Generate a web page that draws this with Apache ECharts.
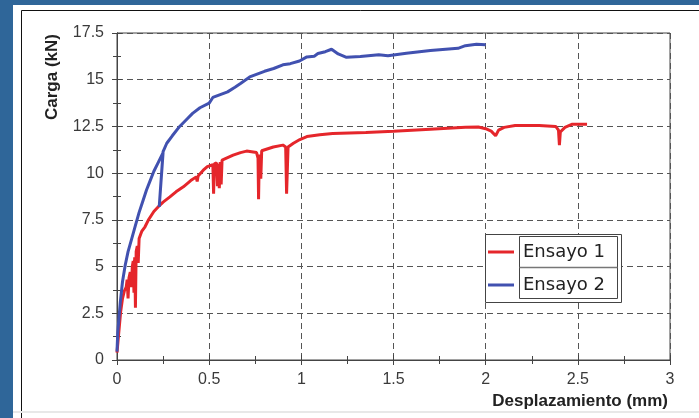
<!DOCTYPE html>
<html>
<head>
<meta charset="utf-8">
<script src="https://cdn.jsdelivr.net/npm/echarts@6/dist/echarts.min.js"></script>
<style>
html,body{margin:0;padding:0;background:#2f6699;}
#c{width:699px;height:418px;}
</style>
</head>
<body>
<div id="c"></div>
<script>
// ---- data (x: displacement mm, y: load kN) ----
var seriesNames = ["Ensayo 1", "Ensayo 2"];
var xTicks = ["0", "0.5", "1", "1.5", "2", "2.5", "3"];
var yTicks = ["0", "2.5", "5", "7.5", "10", "12.5", "15", "17.5"];
var xTitle = "Desplazamiento (mm)";
var yTitle = "Carga (kN)";

var ensayo1 = [
  [0,0.4],[0.01,1.5],[0.02,2.6],[0.03,3.3],[0.04,3.7],[0.05,3.9],[0.055,4.3],[0.06,3.3],[0.065,4.4],
  [0.072,4.7],[0.078,3.9],[0.083,5.0],[0.088,5.3],[0.092,3.6],[0.096,5.5],[0.1,2.8],[0.104,5.8],
  [0.11,6.1],[0.115,5.2],[0.12,6.5],[0.135,6.9],[0.152,7.13],[0.17,7.49],[0.2,7.95],[0.224,8.2],
  [0.25,8.45],[0.287,8.73],[0.32,9.0],[0.36,9.27],[0.4,9.6],[0.43,9.8],[0.435,9.55],[0.44,9.85],
  [0.468,10.16],[0.49,10.35],[0.52,10.45],[0.524,8.9],[0.528,10.5],[0.54,10.55],[0.545,9.3],
  [0.55,10.5],[0.555,9.2],[0.56,10.6],[0.565,9.4],[0.57,10.7],[0.576,10.7],[0.63,10.96],
  [0.67,11.1],[0.703,11.18],[0.757,11.1],[0.765,10.8],[0.768,8.6],[0.772,11.0],[0.78,9.7],
  [0.785,11.2],[0.793,11.23],[0.848,11.4],[0.9,11.5],[0.915,11.4],[0.92,8.9],[0.928,11.4],
  [0.957,11.6],[0.992,11.8],[1.03,11.96],[1.1,12.05],[1.17,12.12],[1.35,12.18],[1.5,12.24],
  [1.7,12.35],[1.89,12.45],[1.96,12.47],[2.0,12.38],[2.03,12.25],[2.054,12.0],[2.07,12.3],
  [2.1,12.45],[2.16,12.55],[2.29,12.55],[2.38,12.5],[2.395,12.3],[2.4,11.5],[2.405,12.2],
  [2.43,12.45],[2.47,12.62],[2.55,12.62]
];

var ensayo2 = [
  [0,0.45],[0.004,1.45],[0.012,2.4],[0.018,3.1],[0.03,4.2],[0.045,5.1],[0.06,5.8],[0.08,6.5],
  [0.1,7.2],[0.12,7.9],[0.14,8.5],[0.16,9.1],[0.18,9.6],[0.2,10.1],[0.22,10.5],[0.24,10.9],
  [0.25,11.1],[0.229,8.2],[0.25,11.15],[0.27,11.6],[0.3,12.0],[0.34,12.5],[0.38,12.9],
  [0.41,13.2],[0.45,13.5],[0.5,13.75],[0.52,14.05],[0.56,14.2],[0.6,14.35],[0.64,14.6],
  [0.67,14.8],[0.72,15.15],[0.76,15.3],[0.8,15.45],[0.85,15.6],[0.9,15.8],[0.94,15.86],
  [0.99,16.0],[1.03,16.22],[1.07,16.26],[1.09,16.4],[1.13,16.5],[1.164,16.63],[1.2,16.38],
  [1.245,16.2],[1.32,16.24],[1.42,16.33],[1.47,16.28],[1.57,16.42],[1.7,16.56],[1.85,16.68],
  [1.89,16.82],[1.95,16.9],[2.0,16.87]
];

var colors = ["#e5262b", "#4151b0"];

var chart = echarts.init(document.getElementById('c'), null, {renderer: 'canvas'});

var labelFont = 'Liberation Sans, Arial';

function xAxisDef(inside, withLabels) {
  return {
    type: 'value', min: 0, max: 3, interval: 0.5, position: 'bottom', gridIndex: 0,
    axisLine: {show: true, onZero: false, lineStyle: {color: '#444', width: 1}},
    axisTick: {show: true, inside: inside, length: 5, lineStyle: {color: '#444'}},
    minorTick: {show: true, splitNumber: 2, length: 4, lineStyle: {color: '#444'}},
    axisLabel: {show: withLabels, margin: 12, color: '#3a3a3a', fontSize: 16, fontFamily: labelFont,
      formatter: function (v) { var i = Math.round(v / 0.5); return xTicks[i] !== undefined ? xTicks[i] : ''; }},
    splitLine: {show: withLabels, lineStyle: {color: '#555', type: [6, 4], width: 1}},
    minorSplitLine: {show: false}
  };
}
function yAxisDef(inside, withLabels) {
  return {
    type: 'value', min: 0, max: 17.5, interval: 2.5, position: 'left', gridIndex: 0,
    axisLine: {show: true, onZero: false, lineStyle: {color: '#444', width: 1}},
    axisTick: {show: true, inside: inside, length: 5, lineStyle: {color: '#444'}},
    minorTick: {show: true, splitNumber: 2, length: 4, lineStyle: {color: '#444'}},
    axisLabel: {show: withLabels, margin: 13, color: '#3a3a3a', fontSize: 16, fontFamily: labelFont,
      formatter: function (v) { var i = Math.round(v / 2.5); return yTicks[i] !== undefined ? yTicks[i] : ''; }},
    splitLine: {show: withLabels, lineStyle: {color: '#555', type: [6, 4], width: 1}},
    minorSplitLine: {show: false}
  };
}

var option = {
  animation: false,
  backgroundColor: 'transparent',
  grid: {left: 117, top: 33, right: 29, bottom: 58, show: true, borderColor: '#444', borderWidth: 1, backgroundColor: 'transparent'},
  xAxis: [xAxisDef(false, true), xAxisDef(true, false)],
  yAxis: [yAxisDef(false, true), yAxisDef(true, false)],
  series: [
    {name: seriesNames[0], type: 'line', data: ensayo1, xAxisIndex: 0, yAxisIndex: 0, showSymbol: false,
      lineStyle: {color: colors[0], width: 3}, itemStyle: {color: colors[0]}, z: 3},
    {name: seriesNames[1], type: 'line', data: ensayo2, xAxisIndex: 0, yAxisIndex: 0, showSymbol: false,
      lineStyle: {color: colors[1], width: 3}, itemStyle: {color: colors[1]}, z: 4}
  ],
  graphic: [
    {type: 'rect', z: -10, silent: true, shape: {x: 13, y: 5, width: 700, height: 420}, style: {fill: '#ffffff'}},
    {type: 'rect', z: -9, silent: true, shape: {x: 21.5, y: 10.5, width: 700, height: 430}, style: {fill: '#ffffff', stroke: '#111', lineWidth: 1}},
    {type: 'line', z: -8, silent: true, shape: {x1: 13, y1: 412, x2: 699, y2: 412}, style: {stroke: '#e8e8e8', lineWidth: 2}},
    {type: 'text', z: 10, silent: true, x: 52, y: 77, rotation: Math.PI / 2,
      style: {text: yTitle, font: 'bold 17px "Liberation Sans", Arial', fill: '#222', textAlign: 'center', textVerticalAlign: 'middle'}},
    {type: 'text', z: 10, silent: true, x: 668, y: 401,
      style: {text: xTitle, font: 'bold 17px "Liberation Sans", Arial', fill: '#222', textAlign: 'right', textVerticalAlign: 'middle'}},
    // legend
    {type: 'rect', z: 10, silent: true, shape: {x: 485.5, y: 234.5, width: 136, height: 68}, style: {fill: '#fff', stroke: '#444', lineWidth: 1}},
    {type: 'rect', z: 11, silent: true, shape: {x: 519.5, y: 236.5, width: 98, height: 62}, style: {fill: '#fff', stroke: '#444', lineWidth: 1}},
    {type: 'line', z: 11, silent: true, shape: {x1: 519.5, y1: 267.5, x2: 617.5, y2: 267.5}, style: {stroke: '#777', lineWidth: 1.5}},
    {type: 'line', z: 11, silent: true, shape: {x1: 488, y1: 252, x2: 514, y2: 252}, style: {stroke: colors[0], lineWidth: 3}},
    {type: 'line', z: 11, silent: true, shape: {x1: 488, y1: 285, x2: 514, y2: 285}, style: {stroke: colors[1], lineWidth: 3}},
    {type: 'text', z: 12, silent: true, x: 523, y: 252,
      style: {text: seriesNames[0], font: '18px "DejaVu Sans", Verdana', fill: '#222', textAlign: 'left', textVerticalAlign: 'middle'}},
    {type: 'text', z: 12, silent: true, x: 523, y: 285,
      style: {text: seriesNames[1], font: '18px "DejaVu Sans", Verdana', fill: '#222', textAlign: 'left', textVerticalAlign: 'middle'}}
  ]
};
chart.setOption(option);
</script>
</body>
</html>
